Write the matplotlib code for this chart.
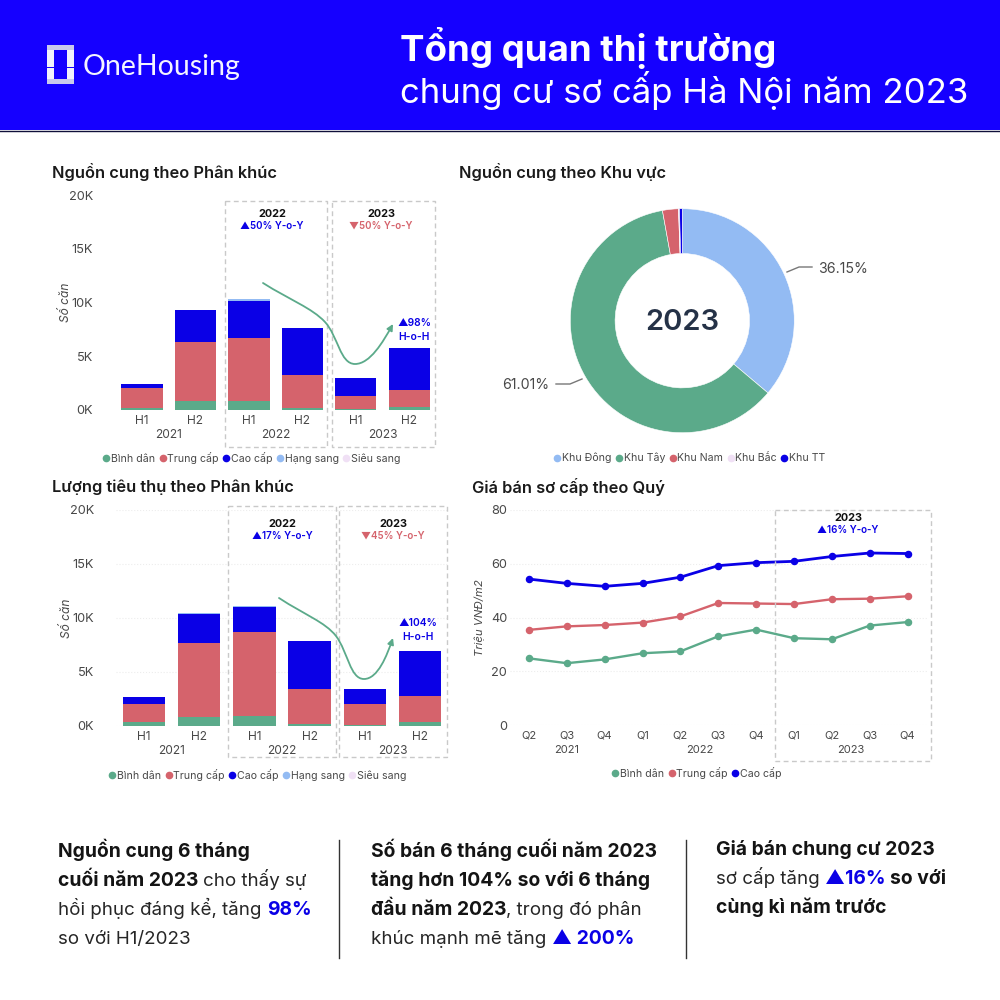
import matplotlib

matplotlib.use("Agg")
import matplotlib.pyplot as plt
from matplotlib.lines import Line2D
from matplotlib.patches import FancyArrowPatch, Rectangle
from matplotlib.path import Path

plt.rcParams["font.family"] = ["Inter", "DejaVu Sans"]

BLUE = "#1500FF"
DARK_BLUE = "#0A00E6"
GREEN = "#5BAA8A"
RED = "#D5636C"
LIGHT_BLUE = "#93BBF3"
PALE = "#F0E0F5"
GRAY = "#484848"

half_labels = ["H1", "H2", "H1", "H2", "H1", "H2"]
year_labels = ["2021", "2022", "2023"]
segments = ["Bình dân", "Trung cấp", "Cao cấp", "Hạng sang", "Siêu sang"]
segment_colors = [GREEN, RED, DARK_BLUE, LIGHT_BLUE, PALE]

# thousands of units per half year
supply_binh_dan = [0.15, 0.8, 0.8, 0.15, 0.1, 0.3]
supply_trung_cap = [1.85, 5.55, 5.9, 3.15, 1.2, 1.6]
supply_cao_cap = [0.4, 2.95, 3.45, 4.3, 1.7, 3.9]
supply_hang_sang = [0.0, 0.0, 0.15, 0.0, 0.0, 0.0]
supply_sieu_sang = [0.0, 0.0, 0.0, 0.0, 0.0, 0.0]

sold_binh_dan = [0.4, 0.8, 0.95, 0.15, 0.1, 0.35]
sold_trung_cap = [1.65, 6.9, 7.75, 3.3, 1.9, 2.4]
sold_cao_cap = [0.6, 2.65, 2.3, 4.45, 1.4, 4.2]
sold_hang_sang = [0.0, 0.1, 0.1, 0.0, 0.0, 0.0]
sold_sieu_sang = [0.0, 0.0, 0.0, 0.0, 0.0, 0.0]

areas = ["Khu Đông", "Khu Tây", "Khu Nam", "Khu Bắc", "Khu TT"]
area_share = [36.15, 61.01, 2.3, 0.14, 0.4]
area_colors = [LIGHT_BLUE, GREEN, RED, PALE, DARK_BLUE]

quarters = ["Q2", "Q3", "Q4", "Q1", "Q2", "Q3", "Q4", "Q1", "Q2", "Q3", "Q4"]
price_binh_dan = [24.8, 23.0, 24.4, 26.7, 27.4, 33.0, 35.5, 32.3, 31.9, 37.0, 38.3]
price_trung_cap = [35.4, 36.7, 37.2, 38.1, 40.4, 45.4, 45.2, 45.0, 46.8, 47.0, 47.9]
price_cao_cap = [54.3, 52.7, 51.6, 52.7, 55.0, 59.3, 60.4, 60.9, 62.7, 64.0, 63.8]


def px_axes(fig, left, top, right, bottom, **kwargs):
    # axes placed by picture pixels, y counted from the top
    return fig.add_axes(
        [left / 1000, 1 - bottom / 1000, (right - left) / 1000, (bottom - top) / 1000],
        **kwargs,
    )


def clean_axes(ax, grid=True):
    for side in ax.spines:
        ax.spines[side].set_visible(False)
    ax.tick_params(length=0, labelcolor=GRAY, labelsize=8.6)
    if grid:
        ax.grid(axis="y", color="#EDEDED", linestyle=":", linewidth=0.8)
    ax.set_axisbelow(True)


def draw_legend(labels, colors, center_x, y):
    handles = [
        Line2D([], [], linestyle="", marker="o", markersize=4.5, color=c, label=t)
        for t, c in zip(labels, colors)
    ]
    fig.legend(
        handles=handles,
        loc="center",
        bbox_to_anchor=(center_x / 1000, 1 - y / 1000),
        ncol=len(labels),
        frameon=False,
        fontsize=7.6,
        labelcolor=GRAY,
        handletextpad=0.0,
        columnspacing=0.25,
        handlelength=0.9,
        borderpad=0,
    )


def stacked_chart(ax, stacks, grid):
    x = range(len(half_labels))
    bottom = [0.0] * len(half_labels)
    for values, color in zip(stacks, segment_colors):
        ax.bar(x, values, bottom=bottom, width=0.77, color=color, linewidth=0)
        bottom = [b + v for b, v in zip(bottom, values)]
    ax.set_xlim(-0.5, 5.5)
    ax.set_ylim(0, 20)
    ax.set_yticks([0, 5, 10, 15, 20], ["0K", "5K", "10K", "15K", "20K"])
    ax.set_xticks(list(x), half_labels)
    clean_axes(ax, grid)
    ax.tick_params(axis="y", labelsize=9.2, pad=16)
    ax.tick_params(axis="x", pad=3.5)
    ax.set_ylabel("Số căn", fontsize=8.6, style="italic", color=GRAY, labelpad=-2)
    for i, year in enumerate(year_labels):
        ax.annotate(
            year,
            xy=(i * 2 + 0.5, 0),
            xycoords=("data", "axes fraction"),
            xytext=(0, -18),
            textcoords="offset points",
            ha="center",
            va="center",
            fontsize=8.6,
            color=GRAY,
        )


def dashed_box(left, top, right, bottom):
    overlay.add_patch(
        Rectangle(
            (left, top),
            right - left,
            bottom - top,
            fill=False,
            edgecolor="#C9C9C9",
            linestyle=(0, (3.5, 2.5)),
            linewidth=1.0,
        )
    )


def curve_arrow(points):
    codes = [Path.MOVETO] + [Path.CURVE4] * (len(points) - 1)
    overlay.add_patch(
        FancyArrowPatch(
            path=Path(points, codes),
            arrowstyle="-|>",
            mutation_scale=9,
            color=GREEN,
            linewidth=1.3,
        )
    )


def text_runs(x, y, runs):
    # one line made of pieces with their own weight and colour
    renderer = fig.canvas.get_renderer()
    for content, weight, color in runs:
        size = 13.9 if weight == "bold" else 13.5
        t = overlay.text(
            x, y, content, fontsize=size, fontweight=weight, color=color,
            va="baseline", ha="left",
        )
        x += t.get_window_extent(renderer).width * 1000 / (fig.get_figwidth() * fig.dpi)


fig = plt.figure(figsize=(10, 10), dpi=100, facecolor="white")

# overlay in picture pixels for header, boxes and notes
overlay = fig.add_axes([0, 0, 1, 1], zorder=5)
overlay.set_xlim(0, 1000)
overlay.set_ylim(1000, 0)
overlay.axis("off")
overlay.patch.set_alpha(0)

# header
overlay.add_patch(Rectangle((0, 0), 1000, 130, color=BLUE, linewidth=0))
overlay.plot([0, 1000], [130.5, 130.5], color="#10103A", linewidth=1)
overlay.add_patch(Rectangle((47, 45), 27, 39, color="#F2F2FC", linewidth=0))
overlay.add_patch(Rectangle((47, 45), 27, 5, color="#C9C9EC", linewidth=0))
overlay.add_patch(Rectangle((47, 79), 27, 5, color="#C9C9EC", linewidth=0))
overlay.add_patch(Rectangle((54, 50), 13, 29, color=BLUE, linewidth=0))
overlay.add_patch(Rectangle((47, 67), 27, 1.3, color=BLUE, linewidth=0))
overlay.text(83, 67, "OneHousing", color="#F4F4FF", fontsize=20.5, va="center",
             family=["Lato", "DejaVu Sans"], fontweight="normal")
overlay.text(400, 48, "Tổng quan thị trường", color="white", fontsize=26.4,
             fontweight="bold", va="center")
overlay.text(400, 91, "chung cư sơ cấp Hà Nội năm 2023", color="white", fontsize=25,
             va="center")

# section titles
titles = [
    (52, 172, "Nguồn cung theo Phân khúc"),
    (459, 172, "Nguồn cung theo Khu vực"),
    (52, 487, "Lượng tiêu thụ theo Phân khúc"),
    (472, 487, "Giá bán sơ cấp theo Quý"),
]
for tx, ty, label in titles:
    overlay.text(tx, ty, label, fontsize=11.8, fontweight="semibold", color="#1A1A1A", va="center")

# supply bars
ax_supply = px_axes(fig, 115.3, 195, 436, 410)
stacked_chart(ax_supply, [supply_binh_dan, supply_trung_cap, supply_cao_cap, supply_hang_sang, supply_sieu_sang], False)
draw_legend(segments, segment_colors, 251, 458)

# sold bars
ax_sold = px_axes(fig, 116.4, 510, 447.6, 726)
stacked_chart(ax_sold, [sold_binh_dan, sold_trung_cap, sold_cao_cap, sold_hang_sang, sold_sieu_sang], True)
draw_legend(segments, segment_colors, 257, 775)

# donut
ax_donut = px_axes(fig, 570.3, 208.7, 794.3, 432.7)
ax_donut.pie(
    area_share,
    colors=area_colors,
    startangle=90,
    counterclock=False,
    radius=1,
    wedgeprops={"width": 0.4, "linewidth": 0.4, "edgecolor": "white"},
)
ax_donut.set_xlim(-1, 1)
ax_donut.set_ylim(-1, 1)
ax_donut.text(0, -0.02, "2023", ha="center", va="center", fontsize=21, fontweight="semibold", color="#253247")
draw_legend(areas, area_colors, 689, 458)
overlay.plot([787, 799, 812], [272, 267, 267], color="#777777", linewidth=1)
overlay.plot([556, 570, 582], [384, 384, 379], color="#777777", linewidth=1)
overlay.text(818, 269, "36.15%", fontsize=10.2, color=GRAY, va="center")
overlay.text(502, 385, "61.01%", fontsize=10.2, color=GRAY, va="center")

# price lines
ax_price = px_axes(fig, 510, 510, 926.6, 725)
x_quarter = list(range(len(quarters)))
for values, color in zip([price_binh_dan, price_trung_cap, price_cao_cap], segment_colors):
    ax_price.plot(x_quarter, values, color=color, linewidth=2 if color == DARK_BLUE else 1.7, marker="o", markersize=4.4)
ax_price.set_xlim(-0.5, 10.5)
ax_price.set_ylim(0, 80)
ax_price.set_yticks([0, 20, 40, 60, 80])
ax_price.set_xticks(x_quarter, quarters)
clean_axes(ax_price)
ax_price.tick_params(axis="y", labelsize=9.2, pad=2)
ax_price.tick_params(axis="x", labelsize=8, pad=4)
ax_price.set_ylabel("Triệu VNĐ/m2", fontsize=8.2, style="italic", color=GRAY, labelpad=4)
for center, year in zip([1, 4.5, 8.5], year_labels):
    ax_price.annotate(
        year,
        xy=(center, 0),
        xycoords=("data", "axes fraction"),
        xytext=(0, -18),
        textcoords="offset points",
        ha="center",
        va="center",
        fontsize=8,
        color=GRAY,
    )
draw_legend(segments[:3], segment_colors[:3], 696, 773)

# dashed highlight boxes
dashed_box(225, 201, 327, 447)
dashed_box(332, 201, 435, 447)
dashed_box(228, 506, 336, 757)
dashed_box(339, 506, 447, 757)
dashed_box(775, 510, 931, 761)

# callouts
callouts = [
    (272, 214, "2022", "▲50% Y-o-Y", DARK_BLUE),
    (381, 214, "2023", "▼50% Y-o-Y", RED),
    (282, 524, "2022", "▲17% Y-o-Y", DARK_BLUE),
    (393, 524, "2023", "▼45% Y-o-Y", RED),
    (848, 518, "2023", "▲16% Y-o-Y", DARK_BLUE),
]
for cx, cy, year, change, color in callouts:
    overlay.text(cx, cy, year, ha="center", va="center", fontsize=7.8, fontweight="bold", color="#111111")
    overlay.text(cx, cy + 12, change, ha="center", va="center", fontsize=7, fontweight="semibold", color=color)
overlay.text(414, 323, "▲98%", ha="center", va="center", fontsize=7.4, fontweight="semibold", color=DARK_BLUE)
overlay.text(414, 337, "H-o-H", ha="center", va="center", fontsize=7.4, fontweight="semibold", color=DARK_BLUE)
overlay.text(418, 623, "▲104%", ha="center", va="center", fontsize=7.4, fontweight="semibold", color=DARK_BLUE)
overlay.text(418, 637, "H-o-H", ha="center", va="center", fontsize=7.4, fontweight="semibold", color=DARK_BLUE)

curve_arrow([(263, 283), (290, 300), (312, 308), (325, 322), (338, 336), (340, 364), (355, 364), (370, 364), (383, 342), (393, 324)])
curve_arrow([(279, 598), (305, 615), (325, 622), (336, 636), (348, 652), (350, 679), (364, 679), (378, 679), (387, 655), (393, 638)])

# notes at the bottom
overlay.plot([338.5, 338.5], [840, 958], color="#333333", linewidth=1)
overlay.plot([685.5, 685.5], [840, 958], color="#333333", linewidth=1)
fig.canvas.draw()
INK = "#141414"
BODY = "#262626"
text_runs(58, 857, [("Nguồn cung 6 tháng", "bold", INK)])
text_runs(58, 886, [("cuối năm 2023 ", "bold", INK), ("cho thấy sự", "normal", BODY)])
text_runs(58, 915, [("hồi phục đáng kể, tăng ", "normal", BODY), ("98%", "bold", DARK_BLUE)])
text_runs(58, 944, [("so với H1/2023", "normal", BODY)])
text_runs(371, 857, [("Số bán 6 tháng cuối năm 2023", "bold", INK)])
text_runs(371, 886, [("tăng hơn 104% so với 6 tháng", "bold", INK)])
text_runs(371, 915, [("đầu năm 2023", "bold", INK), (", trong đó phân", "normal", BODY)])
text_runs(371, 944, [("khúc mạnh mẽ tăng ", "normal", BODY), ("▲ 200%", "bold", DARK_BLUE)])
text_runs(716, 855, [("Giá bán chung cư 2023", "bold", INK)])
text_runs(716, 884, [("sơ cấp tăng ", "normal", BODY), ("▲16% ", "bold", DARK_BLUE), ("so với", "bold", INK)])
text_runs(716, 913, [("cùng kì năm trước", "bold", INK)])

fig.savefig("out.png", dpi=100)
